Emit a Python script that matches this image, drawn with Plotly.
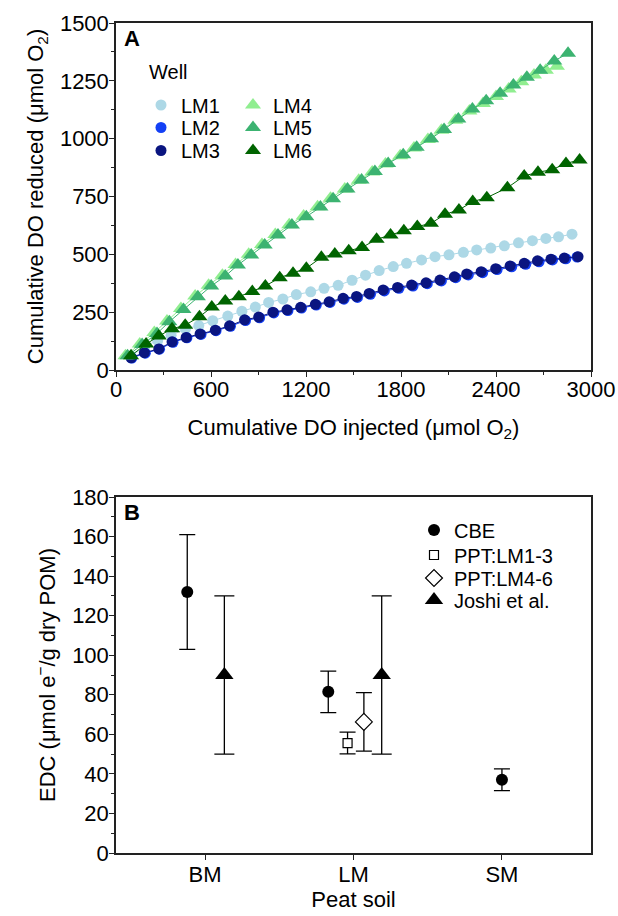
import plotly.graph_objects as go

# ---------------- Panel A data ----------------
lm1_x = [95, 179, 263, 348, 439, 523, 611, 706, 795, 880, 964, 1054, 1139, 1230, 1314, 1403, 1491,
         1576, 1662, 1751, 1835, 1930, 2015, 2103, 2194, 2278, 2367, 2453, 2542, 2630, 2715, 2795, 2880]
lm1_y = [60, 101, 128, 150, 178, 192, 213, 233, 254, 272, 292, 307, 326, 338, 353, 366, 388,
         410, 430, 447, 461, 476, 490, 498, 509, 519, 527, 537, 550, 559, 569, 576, 587]

lm2_x = [100, 185, 275, 360, 448, 537, 632, 723, 818, 907, 997, 1086, 1172, 1265, 1352, 1440, 1525,
         1607, 1695, 1787, 1876, 1966, 2055, 2146, 2225, 2316, 2407, 2499, 2588, 2672, 2757, 2841, 2912]
lm2_y = [52, 73, 90, 120, 139, 154, 170, 189, 214, 226, 247, 257, 268, 281, 292, 306, 314,
         327, 342, 353, 363, 373, 385, 399, 411, 421, 434, 446, 457, 468, 476, 481, 488]

lm3_x = [95, 179, 270, 354, 443, 531, 627, 717, 812, 901, 991, 1080, 1166, 1259, 1346, 1434, 1519,
         1599, 1687, 1778, 1867, 1958, 2046, 2137, 2215, 2306, 2398, 2489, 2578, 2662, 2747, 2831, 2918]
lm3_y = [53, 75, 91, 122, 141, 156, 172, 191, 217, 229, 250, 260, 271, 284, 295, 310, 318,
         331, 346, 357, 367, 377, 389, 403, 415, 425, 438, 450, 461, 472, 479, 484, 490]

lm4_x = [60, 150, 242, 322, 410, 500, 585, 672, 755, 838, 922, 1006, 1094, 1185, 1273, 1355, 1445,
         1533, 1618, 1702, 1795, 1882, 1970, 2055, 2143, 2232, 2318, 2400, 2480, 2560, 2640, 2715, 2785]
lm4_y = [62, 112, 162, 212, 266, 320, 366, 410, 456, 500, 543, 586, 628, 666, 706, 742, 783,
         820, 856, 890, 926, 960, 996, 1036, 1080, 1120, 1152, 1182, 1215, 1246, 1275, 1296, 1313]

lm5_x = [73, 165, 259, 337, 426, 517, 601, 690, 770, 854, 939, 1023, 1111, 1202, 1291, 1371, 1462,
         1551, 1635, 1719, 1814, 1899, 1990, 2072, 2162, 2251, 2338, 2426, 2510, 2595, 2679, 2768, 2855]
lm5_y = [62, 110, 158, 209, 262, 317, 363, 406, 454, 497, 540, 584, 627, 663, 705, 740, 782,
         821, 858, 893, 930, 963, 1000, 1040, 1085, 1128, 1164, 1196, 1232, 1266, 1296, 1336, 1369]

lm6_x = [95, 190, 270, 354, 437, 527, 605, 690, 776, 861, 943, 1034, 1118, 1202, 1297, 1382, 1470,
         1554, 1646, 1734, 1818, 1903, 1989, 2078, 2166, 2253, 2342, 2472, 2578, 2665, 2755, 2842, 2928]
lm6_y = [62, 112, 147, 178, 194, 230, 272, 298, 317, 339, 363, 399, 418, 440, 487, 501, 516,
         530, 565, 584, 602, 620, 634, 673, 692, 728, 745, 788, 839, 855, 866, 893, 908]

# ---------------- Panel B data ----------------
soil_labels = ["BM", "LM", "SM"]
soil_index = [1, 2, 3]

cbe_soil = [1, 2, 3]
cbe_offset = [-0.12, -0.17, 0.0]
cbe_val = [132, 81.5, 37]
cbe_err = [29, 10.5, 5.5]

ppt13_soil = [2]
ppt13_offset = [-0.04]
ppt13_val = [55.6]
ppt13_err = [5.5]

ppt46_soil = [2]
ppt46_offset = [0.07]
ppt46_val = [66.3]
ppt46_err = [14.8]

joshi_soil = [1, 2]
joshi_offset = [0.13, 0.19]
joshi_val = [90, 90]
joshi_err = [40, 40]

FONT = "Liberation Sans, Arial, sans-serif"
FS = 22
LFS = 20

fig = go.Figure()

series_a = [
    ("LM1", lm1_x, lm1_y, "circle", "#ADD8E6", 11),
    ("LM2", lm2_x, lm2_y, "circle", "#1440F5", 11),
    ("LM3", lm3_x, lm3_y, "circle", "#0A1580", 11),
    ("LM4", lm4_x, lm4_y, "triangle-up", "#90EE90", 14),
    ("LM5", lm5_x, lm5_y, "triangle-up", "#3CB371", 14),
    ("LM6", lm6_x, lm6_y, "triangle-up", "#006400", 14),
]
legend_names_a = ["legend", "legend2", "legend3", "legend4", "legend5", "legend6"]
for (name, xs, ys, sym, col, sz), lg in zip(series_a, legend_names_a):
    fig.add_trace(go.Scatter(x=xs, y=ys, mode="lines", line=dict(color=col, width=1),
                             showlegend=False, xaxis="x", yaxis="y", hoverinfo="skip"))
    fig.add_trace(go.Scatter(x=xs, y=ys, mode="markers", name=name,
                             marker=dict(symbol=sym, color=col, size=sz, line=dict(width=0)),
                             xaxis="x", yaxis="y", legend=lg))

def pos(soil, off):
    return [s + o for s, o in zip(soil, off)]

err_style = dict(type="data", color="black", thickness=1.3)
fig.add_trace(go.Scatter(x=pos(cbe_soil, cbe_offset), y=cbe_val, mode="markers", name="CBE",
                         marker=dict(symbol="circle", color="black", size=12),
                         error_y=dict(array=cbe_err, width=8, **err_style),
                         xaxis="x2", yaxis="y2", legend="legend7"))
fig.add_trace(go.Scatter(x=pos(ppt13_soil, ppt13_offset), y=ppt13_val, mode="markers", name="PPT:LM1-3",
                         marker=dict(symbol="square", color="white", size=9, line=dict(color="black", width=1.2)),
                         error_y=dict(array=ppt13_err, width=8, **err_style),
                         xaxis="x2", yaxis="y2", legend="legend8"))
fig.add_trace(go.Scatter(x=pos(ppt46_soil, ppt46_offset), y=ppt46_val, mode="markers", name="PPT:LM4-6",
                         marker=dict(symbol="diamond", color="white", size=13, line=dict(color="black", width=1.2)),
                         error_y=dict(array=ppt46_err, width=8, **err_style),
                         xaxis="x2", yaxis="y2", legend="legend9"))
fig.add_trace(go.Scatter(x=pos(joshi_soil, joshi_offset), y=joshi_val, mode="markers", name="Joshi et al.",
                         marker=dict(symbol="triangle-up", color="black", size=16),
                         error_y=dict(array=joshi_err, width=10, **err_style),
                         xaxis="x2", yaxis="y2", legend="legend10"))

axis_common = dict(showline=True, linecolor="#222", linewidth=1.5, mirror=True,
                   ticks="outside", ticklen=5, tickwidth=1.3, tickcolor="#222",
                   showgrid=False, zeroline=False, automargin=False,
                   tickfont=dict(family=FONT, size=FS, color="black"))

H = 830.0
def ly(py):
    return (853 - py) / H
def lx(px):
    return (px - 116) / 475.0

legend_pos = {
    "legend": (lx(141), ly(105)),
    "legend2": (lx(141), ly(127.5)),
    "legend3": (lx(141), ly(150.5)),
    "legend4": (lx(233), ly(105)),
    "legend5": (lx(233), ly(127.5)),
    "legend6": (lx(233), ly(150.5)),
    "legend7": (lx(414), ly(530)),
    "legend8": (lx(414), ly(555)),
    "legend9": (lx(414), ly(578)),
    "legend10": (lx(414), ly(600)),
}
legend_layouts = {}
for k, (x, y) in legend_pos.items():
    legend_layouts[k] = dict(x=x, y=y, xanchor="left", yanchor="middle", bgcolor="rgba(0,0,0,0)",
                             font=dict(family=FONT, size=LFS), itemwidth=30, borderwidth=0)

fig.update_layout(
    template="none",
    width=618, height=916,
    margin=dict(l=116, r=27, t=23, b=63, autoexpand=False),
    paper_bgcolor="white", plot_bgcolor="white",
    font=dict(family=FONT, size=FS, color="black"),
    xaxis=dict(domain=[0, 1], anchor="y", range=[0, 3000], dtick=600, tick0=0,
               minor=dict(dtick=300, ticks="outside", ticklen=3, tickcolor="#222"),
               ticklabelstandoff=-6,
               title=dict(text="Cumulative DO injected (μmol O<sub>2</sub>)", standoff=18,
                          font=dict(family=FONT, size=FS)),
               **axis_common),
    yaxis=dict(domain=[0.5819, 1], anchor="x", range=[0, 1500], dtick=250, tick0=0,
               minor=dict(dtick=125, ticks="outside", ticklen=3, tickcolor="#222"),
               ticklabelstandoff=-4,
               title=dict(text="Cumulative DO reduced (μmol O<sub>2</sub>)", standoff=10,
                          font=dict(family=FONT, size=FS)),
               **axis_common),
    xaxis2=dict(domain=[0, 1], anchor="y2", range=[0.4, 3.6], tickvals=soil_index, ticktext=soil_labels,
                ticklabelstandoff=-4,
                title=dict(text="Peat soil", standoff=5, font=dict(family=FONT, size=FS)),
                **axis_common),
    yaxis2=dict(domain=[0, 0.4289], anchor="x2", range=[0, 180], dtick=20, tick0=0,
                minor=dict(dtick=10, ticks="outside", ticklen=3, tickcolor="#222"),
                ticklabelstandoff=-4,
                title=dict(text="EDC (μmol e<sup>−</sup>/g dry POM)", standoff=10,
                           font=dict(family=FONT, size=FS)),
                **axis_common),
    annotations=[
        dict(text="<b>A</b>", xref="paper", yref="paper", x=lx(131.5), y=ly(38), xanchor="center",
             yanchor="middle", showarrow=False, font=dict(family=FONT, size=FS)),
        dict(text="<b>B</b>", xref="paper", yref="paper", x=lx(132), y=ly(512), xanchor="center",
             yanchor="middle", showarrow=False, font=dict(family=FONT, size=FS)),
        dict(text="Well", xref="paper", yref="paper", x=lx(147), y=ly(72), xanchor="left",
             yanchor="middle", showarrow=False, font=dict(family=FONT, size=LFS)),
    ],
)
fig.update_layout(**legend_layouts)

fig.write_html("out.html", config={"displayModeBar": False},
               post_script="document.body.style.margin='0';document.body.style.overflow='hidden';")
